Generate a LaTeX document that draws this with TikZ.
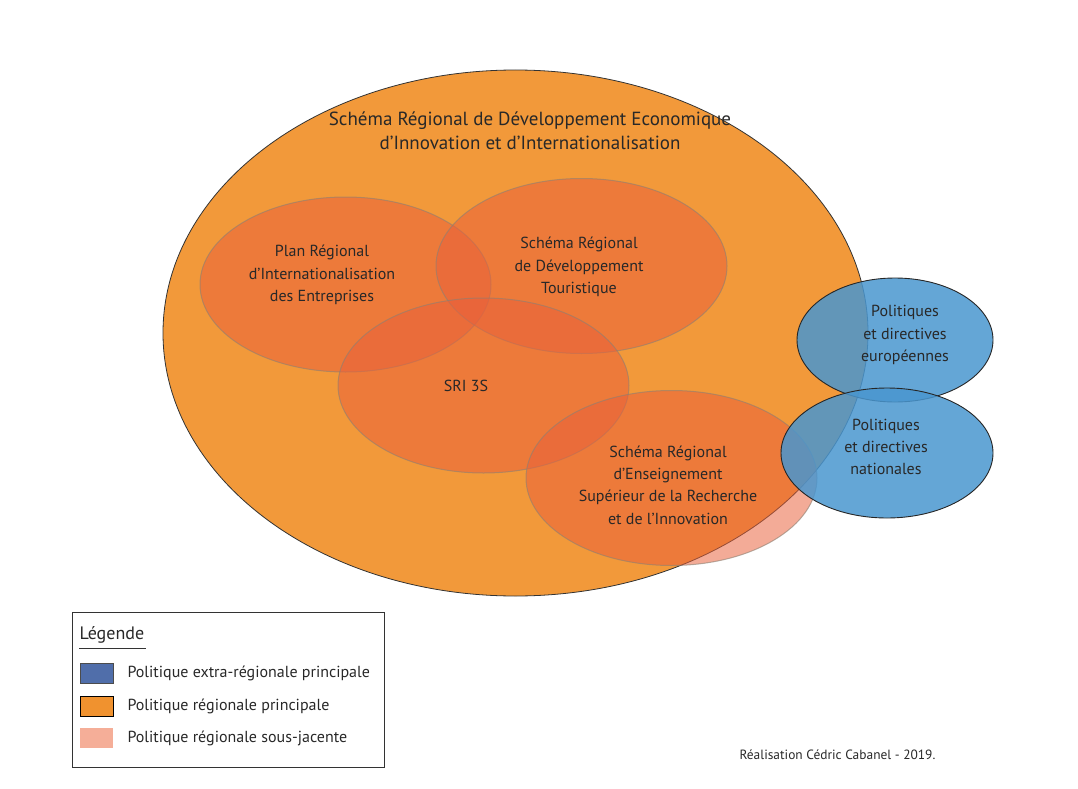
\documentclass[tikz,border=0pt]{standalone}
\usepackage{fontspec}
\setmainfont{PT Sans}
\usepackage{tikz}
\usetikzlibrary{shapes.geometric,positioning}
\definecolor{regmain}{RGB}{242,153,58}
\definecolor{regsub}{RGB}{233,96,58}
\definecolor{extmain}{RGB}{73,150,207}
\definecolor{legblue}{RGB}{80,110,170}
\definecolor{legorange}{RGB}{240,146,47}
\definecolor{legpink}{RGB}{245,174,152}
\definecolor{txt}{RGB}{40,40,40}
\tikzset{
  mainpol/.style={
    ellipse,
    draw=black!80,
    line width=0.8pt,
    fill=regmain,
    inner sep=0pt
  },
  subpol/.style={
    ellipse,
    draw=gray!80!brown,
    line width=1pt,
    draw opacity=0.6,
    fill=regsub,
    fill opacity=0.53,
    minimum width=291pt,
    minimum height=175pt,
    inner sep=0pt
  },
  extpol/.style={
    ellipse,
    draw=black!85,
    line width=0.9pt,
    fill=extmain,
    fill opacity=0.85,
    inner sep=0pt
  },
  poltext/.style={
    align=center,
    text=txt,
    font=\fontsize{16}{22.3}\selectfont
  },
  legswatch/.style={
    minimum width=33pt,
    minimum height=20pt,
    inner sep=0pt
  },
  legtext/.style={
    anchor=west,
    text=txt,
    font=\fontsize{16}{19}\selectfont
  }
}

\begin{document}
\begin{tikzpicture}[x=1pt,y=-1pt]
  \useasboundingbox (0,0) rectangle (1078,789);
  \node[mainpol,minimum width=705pt,minimum height=526pt] (sredii) at (515.5,333) {};
  \node[poltext,font=\fontsize{19}{23.5}\selectfont] (sredii-txt) at (530,131) {Schéma Régional de Développement Economique\\d’Innovation et d’Internationalisation};
  \node[subpol] (prie) at (345.5,284.5) {};
  \node[subpol] (srdt) at (581.5,266) {};
  \node[subpol] (sri) at (483.5,385.5) {};
  \node[subpol] (sresri) at (671.5,478) {};
  \node[poltext] (prie-txt) at (322,275) {Plan Régional\\d’Internationalisation\\des Entreprises};
  \node[poltext] (srdt-txt) at (579,267) {Schéma Régional\\de Développement\\Touristique};
  \node[poltext] (sri-txt) at (466,386) {SRI 3S};
  \node[poltext] (sresri-txt) at (668,485) {Schéma Régional\\d’Enseignement\\Supérieur de la Recherche\\et de l’Innovation};
  \node[extpol,minimum width=196pt,minimum height=124pt] (europe) at (895,340) {};
  \node[extpol,minimum width=212pt,minimum height=130pt] (nation) at (887,453) {};
  \node[poltext] (europe-txt) at (905,335) {Politiques\\et directives\\européennes};
  \node[poltext] (nation-txt) at (886,447) {Politiques\\et directives\\nationales};
  % legende
  \node[draw=black!80,line width=1pt,minimum width=312pt,minimum height=155pt,inner sep=0pt] (legend) at (228,689.5) {};
  \node[legtext,font=\fontsize{18}{21}\selectfont] (leg-title) at (76,635) {Légende};
  \draw[black!80,line width=0.8pt] ([xshift=3pt,yshift=-1pt]leg-title.south west) -- ([xshift=-2pt,yshift=-1pt]leg-title.south east);
  \node[legswatch,fill=legblue,draw=black!70,line width=0.5pt] (sw-ext) at (96.5,673.5) {};
  \node[legswatch,fill=legorange,draw=black,line width=1pt] (sw-reg) at (96.5,706.5) {};
  \node[legswatch,fill=legpink] (sw-sub) at (96.5,738) {};
  \node[legtext] (lt-ext) at (124,673.5) {Politique extra-régionale principale};
  \node[legtext] (lt-reg) at (124,706.5) {Politique régionale principale};
  \node[legtext] (lt-sub) at (124,738) {Politique régionale sous-jacente};
  \node[legtext,font=\fontsize{13.4}{15}\selectfont] (credit) at (736,755) {Réalisation Cédric Cabanel - 2019.};
\end{tikzpicture}
\end{document}
